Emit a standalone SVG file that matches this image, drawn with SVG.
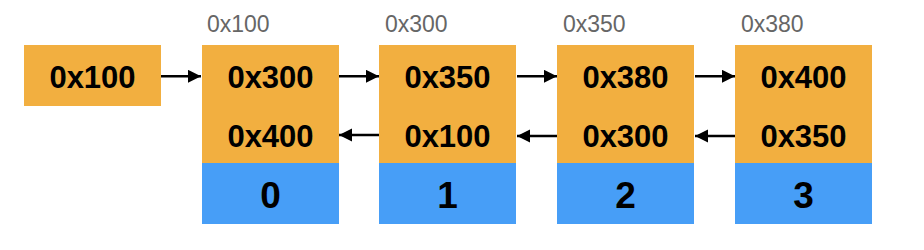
<svg xmlns="http://www.w3.org/2000/svg" width="924" height="250" viewBox="0 0 924 250">
<style>
.o{fill:#F2AF40}
.b{fill:#479EF7}
.t{font-family:"Liberation Sans",Arial,sans-serif;font-weight:bold;font-size:31px;fill:#000;text-anchor:middle}
.n{font-family:"Liberation Sans",Arial,sans-serif;font-weight:bold;font-size:37px;fill:#000;text-anchor:middle}
.a{font-family:"Liberation Sans",Arial,sans-serif;font-size:23px;fill:#666;text-anchor:start}
.c{stroke:#000;stroke-width:2.6;fill:none;marker-end:url(#ah)}
</style>
<defs>
<marker id="ah" markerUnits="userSpaceOnUse" markerWidth="14" markerHeight="14" refX="13" refY="6.5" orient="auto">
<path d="M0,0 L13,6.5 L0,13 Z" fill="#000"/>
</marker>
</defs>
<rect width="924" height="250" fill="#fff"/>
<g id="head">
<rect class="o" x="24" y="45" width="137" height="61"/>
<text class="t" x="92.5" y="87.5">0x100</text>
</g>
<g id="node0">
<text class="a" x="207" y="32.3">0x100</text>
<rect class="o" x="202" y="45" width="137" height="118"/>
<rect class="b" x="202" y="163" width="137" height="61"/>
<text class="t" x="270.5" y="87.5">0x300</text>
<text class="t" x="270.5" y="146.8">0x400</text>
<text class="n" x="270.5" y="207.5">0</text>
</g>
<g id="node1">
<text class="a" x="385" y="32.3">0x300</text>
<rect class="o" x="379" y="45" width="137" height="118"/>
<rect class="b" x="379" y="163" width="137" height="61"/>
<text class="t" x="447.5" y="87.5">0x350</text>
<text class="t" x="447.5" y="146.8">0x100</text>
<text class="n" x="447.5" y="207.5">1</text>
</g>
<g id="node2">
<text class="a" x="563" y="32.3">0x350</text>
<rect class="o" x="557" y="45" width="137" height="118"/>
<rect class="b" x="557" y="163" width="137" height="61"/>
<text class="t" x="625.5" y="87.5">0x380</text>
<text class="t" x="625.5" y="146.8">0x300</text>
<text class="n" x="625.5" y="207.5">2</text>
</g>
<g id="node3">
<text class="a" x="741" y="32.3">0x380</text>
<rect class="o" x="735" y="45" width="137" height="118"/>
<rect class="b" x="735" y="163" width="137" height="61"/>
<text class="t" x="803.5" y="87.5">0x400</text>
<text class="t" x="803.5" y="146.8">0x350</text>
<text class="n" x="803.5" y="207.5">3</text>
</g>
<g id="connectors">
<line class="c" x1="161" y1="76.3" x2="201" y2="76.3"/>
<line class="c" x1="339" y1="76.3" x2="379" y2="76.3"/>
<line class="c" x1="517" y1="76.3" x2="557" y2="76.3"/>
<line class="c" x1="695" y1="76.3" x2="735" y2="76.3"/>
<line class="c" x1="379" y1="135" x2="339" y2="135"/>
<line class="c" x1="557" y1="136" x2="517" y2="136"/>
<line class="c" x1="735" y1="136" x2="695" y2="136"/>
</g>
</svg>
